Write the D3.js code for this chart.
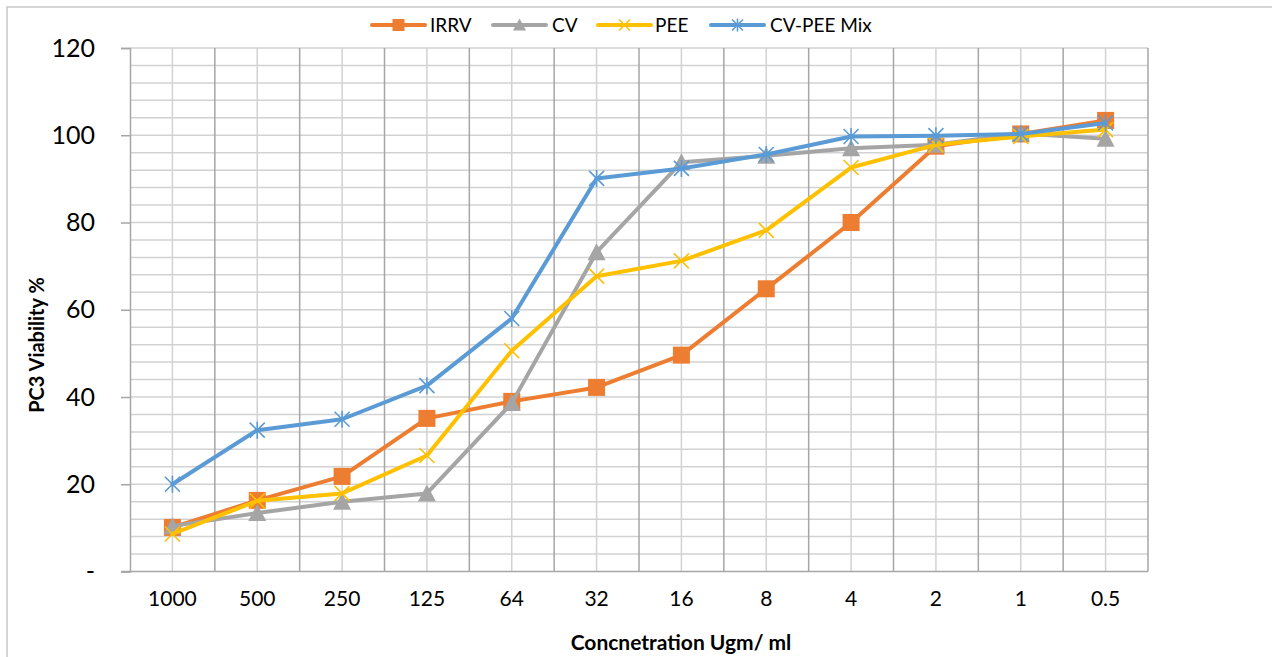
<!DOCTYPE html>
<html>
<head>
<meta charset="utf-8">
<script src="https://cdn.jsdelivr.net/npm/d3@7"></script>
<style>
  html, body { margin: 0; padding: 0; background: #fff; }
  svg { display: block; font-family: Lato, "Open Sans", sans-serif; }
</style>
</head>
<body>
<svg id="chart" width="1272" height="657"></svg>
<script>
// Concentrations (µg/ml), highest to lowest
const categories = ["1000", "500", "250", "125", "64", "32", "16", "8", "4", "2", "1", "0.5"];

// PC3 viability (%) per treatment
const irrv  = [10.1, 16.3, 21.8, 35.1, 39.0, 42.2, 49.6, 64.8, 80.0, 97.5, 100.3, 103.4];
const cv    = [10.4, 13.4, 16.0, 17.9, 38.6, 73.2, 93.8, 95.3, 97.0, 97.8, 100.4, 99.2];
const pee   = [8.6, 16.2, 17.9, 26.6, 50.6, 67.7, 71.2, 78.2, 92.6, 97.8, 99.7, 101.3];
const mix   = [20.0, 32.4, 34.9, 42.6, 58.0, 90.1, 92.4, 95.6, 99.7, 99.9, 100.3, 102.8];

const seriesNames = ["IRRV", "CV", "PEE", "CV-PEE Mix"];
const yTicks = [0, 20, 40, 60, 80, 100, 120];

const series = [
  { name: seriesNames[0], values: irrv, color: "#ED7D31", marker: "square" },
  { name: seriesNames[1], values: cv,   color: "#A5A5A5", marker: "triangle" },
  { name: seriesNames[2], values: pee,  color: "#FFC000", marker: "x" },
  { name: seriesNames[3], values: mix,  color: "#5B9BD5", marker: "star" }
];

const svg = d3.select("#chart");
const plot = { left: 130, right: 1148, top: 48, bottom: 571.5 };

const x = d3.scaleBand().domain(categories).range([plot.left, plot.right]).padding(0);
const y = d3.scaleLinear().domain([0, 120]).range([plot.bottom, plot.top]);

// Chart frame
svg.append("path")
  .attr("d", "M7,657 L7,7 L1272,7")
  .attr("fill", "none").attr("stroke", "#c8c8c8").attr("stroke-width", 1.5);

// Horizontal gridlines (every 4 units)
const grid = svg.append("g");
grid.selectAll("line.h")
  .data(d3.range(4, 121, 4))
  .join("line")
  .attr("x1", plot.left).attr("x2", plot.right)
  .attr("y1", d => y(d)).attr("y2", d => y(d))
  .attr("stroke", "#d2d2d2").attr("stroke-width", 1.5);

// Vertical gridlines: category centres (light) and category boundaries (darker)
grid.selectAll("line.c")
  .data(categories)
  .join("line")
  .attr("x1", d => x(d) + x.bandwidth() / 2).attr("x2", d => x(d) + x.bandwidth() / 2)
  .attr("y1", plot.top).attr("y2", plot.bottom)
  .attr("stroke", "#d2d2d2").attr("stroke-width", 1.5);

grid.selectAll("line.b")
  .data(categories.slice(1).concat(["end"]))
  .join("line")
  .attr("x1", (d, i) => plot.left + (i + 1) * x.bandwidth())
  .attr("x2", (d, i) => plot.left + (i + 1) * x.bandwidth())
  .attr("y1", plot.top).attr("y2", plot.bottom)
  .attr("stroke", "#a6a6a6").attr("stroke-width", 1.5);

// Y axis
const yAxis = svg.append("g")
  .attr("transform", `translate(${plot.left},0)`)
  .call(d3.axisLeft(y).tickValues(yTicks).tickSize(9).tickPadding(26)
    .tickFormat(d => d === 0 ? "-" : d3.format("d")(d)));
yAxis.select(".domain").attr("stroke", "#a6a6a6").attr("stroke-width", 1.5);
yAxis.selectAll(".tick line").attr("stroke", "#a6a6a6").attr("stroke-width", 1.5);
yAxis.selectAll(".tick text")
  .attr("font-family", "Lato, 'Open Sans', sans-serif")
  .attr("font-size", 25).attr("fill", "#000");

// X axis
const xAxis = svg.append("g")
  .attr("transform", `translate(0,${plot.bottom})`)
  .call(d3.axisBottom(x).tickSize(0).tickPadding(20));
xAxis.select(".domain").remove();
svg.append("line")
  .attr("x1", plot.left - 9).attr("x2", plot.right)
  .attr("y1", plot.bottom).attr("y2", plot.bottom)
  .attr("stroke", "#a6a6a6").attr("stroke-width", 1.5);
xAxis.selectAll(".tick text")
  .attr("font-family", "Lato, 'Open Sans', sans-serif")
  .attr("font-size", 21).attr("fill", "#000");

// Axis titles
svg.append("text")
  .attr("x", 681).attr("y", 650)
  .attr("text-anchor", "middle")
  .attr("font-size", 21).attr("font-weight", "bold")
  .text("Concnetration Ugm/ ml");

svg.append("text")
  .attr("transform", "translate(44,345) rotate(-90)")
  .attr("text-anchor", "middle")
  .attr("font-size", 20).attr("font-weight", "bold")
  .text("PC3 Viability %");

// Marker drawing
function drawMarker(g, type, color, size) {
  const h = size / 2;
  if (type === "square") {
    g.append("rect").attr("x", -h).attr("y", -h).attr("width", size).attr("height", size)
      .attr("fill", color);
  } else if (type === "triangle") {
    g.append("path").attr("d", `M0,${-h - 1} L${h + 1},${h} L${-h - 1},${h} Z`).attr("fill", color);
  } else if (type === "x") {
    g.append("path").attr("d", `M${-h},${-h} L${h},${h} M${-h},${h} L${h},${-h}`)
      .attr("stroke", color).attr("stroke-width", 1.6).attr("fill", "none");
  } else if (type === "star") {
    g.append("path").attr("d", `M${-h},${-h} L${h},${h} M${-h},${h} L${h},${-h} M0,${-h - 1} L0,${h + 1}`)
      .attr("stroke", color).attr("stroke-width", 1.6).attr("fill", "none");
  }
}

const cx = d => x(d) + x.bandwidth() / 2;
const line = d3.line().x(d => cx(d.c)).y(d => y(d.v));

const markerSize = { square: 17, triangle: 16, x: 15, star: 15 };

series.forEach(s => {
  const pts = categories.map((c, i) => ({ c, v: s.values[i] }));
  const g = svg.append("g");
  g.append("path").datum(pts)
    .attr("d", line)
    .attr("fill", "none").attr("stroke", s.color)
    .attr("stroke-width", 4).attr("stroke-linejoin", "round").attr("stroke-linecap", "round");
  pts.forEach(p => {
    const mg = g.append("g").attr("transform", `translate(${cx(p.c)},${y(p.v)})`);
    drawMarker(mg, s.marker, s.color, markerSize[s.marker]);
  });
});

// Legend
const legendItems = [
  { x: 372, tx: 430 },
  { x: 493, tx: 552 },
  { x: 598, tx: 655 },
  { x: 711, tx: 770 }
];
const legend = svg.append("g");
series.forEach((s, i) => {
  const L = legendItems[i];
  const g = legend.append("g");
  g.append("line").attr("x1", L.x).attr("x2", L.x + 53).attr("y1", 25).attr("y2", 25)
    .attr("stroke", s.color).attr("stroke-width", 4).attr("stroke-linecap", "round");
  const mg = g.append("g").attr("transform", `translate(${L.x + 26.5},25)`);
  drawMarker(mg, s.marker, s.color, s.marker === "square" ? 12 : 11);
  g.append("text").attr("x", L.tx).attr("y", 32)
    .attr("font-size", 19).attr("fill", "#000")
    .text(s.name);
});
</script>
</body>
</html>
